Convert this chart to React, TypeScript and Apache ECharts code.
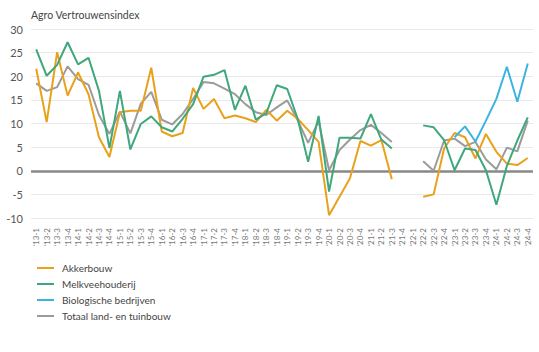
import React, { useEffect, useRef } from "react";
import * as echarts from "echarts";

const years = ["13", "14", "15", "16", "17", "18", "19", "20", "21", "22", "23", "24"];
const quarters = ["1", "2", "3", "4"];
const categories: string[] = [];
years.forEach((y) => quarters.forEach((q) => categories.push("'" + y + "-" + q)));

const akkerbouw = [
  21.6, 10.3, 25.1, 15.9, 20.8, 16.2, 7.1, 2.9, 12.4, 12.7, 12.7, 21.8,
  8.3, 7.3, 8.0, 17.5, 13.1, 15.2, 11.1, 11.7, 11.1, 10.3, 12.9, 10.6,
  12.7, 11.0, 8.6, 6.1, -9.4, -5.5, -1.6, 6.3, 5.3, 6.5, -1.8, null,
  null, -5.5, -5.0, 4.7, 8.0, 7.1, 2.6, 7.8, 4.0, 1.5, 1.2, 2.7,
];
const melkveehouderij = [
  25.7, 20.1, 22.4, 27.2, 22.5, 23.9, 16.9, 4.8, 16.9, 4.5, 9.9, 11.5,
  9.2, 8.3, 11.0, 14.1, 19.9, 20.3, 21.3, 12.9, 18.0, 10.8, 12.2, 18.1,
  17.3, 11.0, 1.9, 11.6, -4.4, 7.0, 7.0, 6.8, 12.0, 6.6, 4.7, null,
  null, 9.6, 9.2, 6.5, 0.1, 4.7, 4.4, 0.1, -7.2, 1.0, 6.4, 11.3,
];
const biologisch = [
  null, null, null, null, null, null, null, null, null, null, null, null,
  null, null, null, null, null, null, null, null, null, null, null, null,
  null, null, null, null, null, null, null, null, null, null, null, null,
  null, null, null, null, 7.1, 9.4, 6.2, 10.6, 15.2, 22.0, 14.6, 22.7,
];
const totaal = [
  18.5, 16.9, 17.7, 22.1, 19.4, 18.2, 11.8, 7.8, 12.5, 7.9, 14.2, 16.7,
  10.8, 9.8, 12.0, 15.2, 18.8, 18.5, 17.4, 16.2, 14.1, 12.4, 11.8, 13.4,
  14.9, 10.7, 5.9, 10.5, 0.1, 4.4, 6.6, 8.6, 9.7, 8.0, 6.1, null,
  null, 2.0, 0.0, 6.4, 6.8, 5.2, 6.1, 2.4, 0.3, 4.9, 4.1, 10.6,
];

const names = ["Akkerbouw", "Melkveehouderij", "Biologische bedrijven", "Totaal land- en tuinbouw"];
const colors = ["#E9A11B", "#3FA77C", "#3DB4E0", "#9B9B9B"];

export default function App() {
  const ref = useRef<HTMLDivElement>(null);
  useEffect(() => {
    if (!ref.current) return;
    const chart = echarts.init(ref.current, null, { renderer: "svg" });
    const font = "Lato";
    const datas = [akkerbouw, melkveehouderij, biologisch, totaal];
    chart.setOption({
      animation: false,
      textStyle: { fontFamily: font },
      title: {
        text: "Agro Vertrouwensindex",
        left: 26,
        top: 4,
        textStyle: { fontSize: 10.5, fontWeight: "normal", color: "#444", fontFamily: font },
      },
      legend: {
        orient: "vertical",
        left: 31,
        top: 258,
        itemWidth: 17,
        itemHeight: 11,
        itemGap: 6,
        data: names,
        itemStyle: { opacity: 0 },
        lineStyle: { width: 2 },
        textStyle: { fontSize: 10, color: "#444", padding: [0, 0, 0, 3], fontFamily: font },
      },
      grid: { left: 31, right: 6, top: 29, bottom: 134, containLabel: false },
      xAxis: {
        type: "category",
        data: categories,
        boundaryGap: true,
        axisLine: { show: false, onZero: false },
        axisTick: { show: false },
        axisLabel: {
          rotate: 90,
          interval: 0,
          fontSize: 8,
          color: "#777",
          margin: 10,
          fontFamily: font,
        },
      },
      yAxis: {
        type: "value",
        min: -10,
        max: 30,
        interval: 5,
        axisLine: { show: false },
        axisTick: { show: false },
        axisLabel: { fontSize: 11, color: "#555", margin: 8, fontFamily: font },
        splitLine: { lineStyle: { color: "#E9E9E9", width: 1 } },
      },
      series: datas.map((d, i) => ({
        name: names[i],
        type: "line",
        data: d,
        symbol: "none",
        connectNulls: false,
        z: i === 3 ? 1 : 3,
        color: colors[i],
        lineStyle: { color: colors[i], width: 2 },
        markLine:
          i === 0
            ? {
                silent: true,
                symbol: "none",
                label: { show: false },
                lineStyle: { color: "#888", width: 2.5, type: "solid" },
                data: [{ yAxis: 0 }],
                z: 0,
              }
            : undefined,
      })),
    });
    return () => chart.dispose();
  }, []);
  return (
    <div
      ref={ref}
      style={{ position: "absolute", left: 0, top: 0, width: 539, height: 352 }}
    />
  );
}
